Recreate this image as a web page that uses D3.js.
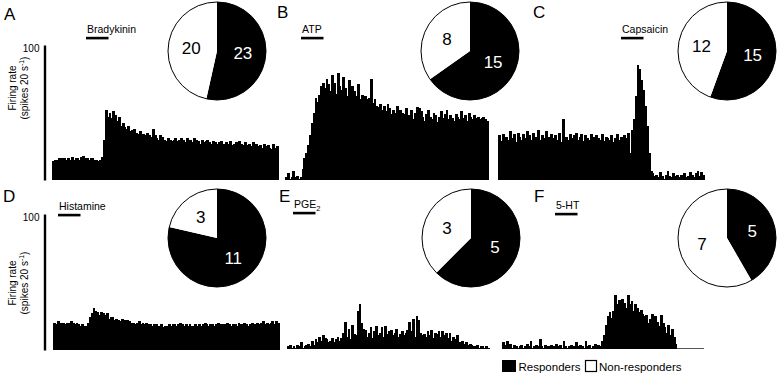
<!DOCTYPE html>
<html><head><meta charset="utf-8">
<script src="https://cdn.jsdelivr.net/npm/d3@7"></script>
<style>
body{margin:0;background:#fff;}
svg{display:block;font-family:"Liberation Sans",Arial,sans-serif;}
</style></head><body>
<svg id="chart" width="779" height="375"></svg>
<script>
// ---------- data ----------
const panelLetters = ["A","B","C","D","E","F"];
const drugs = ["Bradykinin","ATP","Capsaicin","Histamine","PGE","5-HT"];
const responders = [23,15,15,11,5,5];
const nonResponders = [20,8,12,3,3,7];
const yTickValues = [100];
const legendLabels = ["Responders","Non-responders"];

const rateA = [14,15,15,16,15,16,16,15,16,15, 17,15,16,16,15,17,18,16,16,15, 16,16,15,15,14,15,17,
  30,52,47,50,46,51,48,44,47,40,42,
  39,38,40,36,37,38,
  35,34,36,33,34,33,35,33,32,38,33,
  31,30,33,32,30,29,31,30,29,30, 31,29,30,31,30,28,31,29,30,28, 31,30,29,27,30,28,29,30,
  28,27,29,28,27,28,29,26,27,28, 27,29,26,27,28,26,29,27,26,28, 26,27,25,28,26,27,25,26,24,27, 25,26,24,23,27,24,25];
const rateB = [2,5,1,2,7,2,3,1,2,
  8,16,20,26,33,42,50,61,
  58,63,70,72,68,75,71,66,78,72,64,79,70,67,76,
  68,62,74,65,70,66,62,71,60,63,58,62,60,61,75,57,60,55,
  54,56,52,55,51,56,53,49,52,50,55,51,52,50,49,53,48,46,
  52,45,50,54,53,51,47,44,49,52, 47,45,50,48,43,47,51,46,49,52, 45,48,46,44,49,47,45,51,46,48, 44,50,47,45,48,46,47,45,46,47, 45,44];
const rateC = [33,29,34,31,32,30,36,31,34,28, 35,32,30,34,31,36,33,30,35,31, 32,37,30,33,31,36,32,29,34,31,
  33,30,35,28,45,31,32,30,34,31, 33,35,30,32,34,29,33,31,30,34, 32,28,33,31,30,34,29,32,31,30, 33,28,31,34,30,32,29,33,31,35,
  20,37,45,62,85,82,74,67,55,40,20,7,
  5,3,4,2,6,3,1,4,7,3, 2,5,3,4,2,4,3,5,2,3, 6,4,2,5,7,3,6,4];
const rateD = [20,19,21,20,19,20,19,20,20,21, 20,19,20,19,18,19,18,18,
  20,24,27,
  31,29,28,26,28,27,26,27,23,24,
  24,22,23,22,21,23,22,21,22,21,20,
  20,19,20,21,19,20,19,20,19,19, 18,19,19,18,18,19,17,18,18,19, 18,19,19,18,19,20,19,18,19,18, 19,18,18,19,18,19,18,19,20,19,
  18,19,19,18,19,20,19,19,18,19, 20,19,18,19,19,18,20,19,19,20, 19,18,19,20,19,18,20,19,20,21, 19,20,19,20,21,19,21,20];
const rateE = [2,3,1,2,1,3,2,5,1,2,3,4,2,6,3,
  7,5,9,6,10,8,7,5,6,8,5,7,9,6,
  8,12,20,9,15,7,18,11,10,
  28,33,19,15,
  14,9,12,16,8,13,17,10,12,16,9,17,11,13,14,10,12,15,9,11,13,10,12,14,
  20,13,22,9,24,21,
  12,10,11,9,13,10,14,8,12,11,13,9,
  13,10,12,8,12,6,9,7,10,
  5,4,6,4,5,3,4,3,
  2,2,3,1,2,2,1,2,1];
const rateF = [5,3,6,2,4,1,3,2,1,2, 3,1,2,4,2,6,1,2,3,2, 7,2,1,3,2,2,3,1,2,4, 2,3,1,6,2,1,2,3,2,1, 5,2,3,2,1,6,2,3,1,2, 4,2,3,2,
  6,10,18,24,
  27,23,28,
  40,
  33,36,35,37,34,30,40,33,
  35,28,33,30,27,29,26,24,
  25,19,22,26,18,24,20,17,25,19,
  16,12,18,10,15,9,4,
  0,0,0,0,0,0,0,0,0,0,0,0,0,0,0];
const rates = [rateA,rateB,rateC,rateD,rateE,rateF];

// ---------- layout ----------
const layout = [
  {x0:52, x1:278, base:180, top:45,  pie:[217,51],  letter:[4,20],    stim:[86,33],  ylab:88},
  {x0:285,x1:488, base:180, top:45,  pie:[470,51],  letter:[277,18],  stim:[301,33]},
  {x0:498,x1:704, base:180, top:45,  pie:[727,51],  letter:[533,18],  stim:[621,33]},
  {x0:53, x1:279, base:350, top:214, pie:[217,238], letter:[3,202],   stim:[58,210], ylab:283},
  {x0:287,x1:489, base:349, top:213, pie:[471,238], letter:[279,202], stim:[293,208]},
  {x0:502,x1:704, base:349, top:213, pie:[727,238], letter:[534,202], stim:[555,209]}
];
const R = 49, stimW = 22.5;

const svg = d3.select("#chart");

rates.forEach((vals, i) => {
  const L = layout[i];
  const g = svg.append("g");
  const x = d3.scaleBand().domain(d3.range(vals.length)).range([L.x0, L.x1]).padding(0);
  const y = d3.scaleLinear().domain([0,100]).range([L.base, L.top]);

  // baseline
  g.append("line").attr("x1",L.x0).attr("x2",L.x1).attr("y1",L.base-0.5).attr("y2",L.base-0.5)
    .attr("stroke","#555").attr("stroke-width",1);

  g.selectAll("rect.bar").data(vals).enter().append("rect")
    .attr("class","bar")
    .attr("x",(d,j)=>x(j))
    .attr("width",x.bandwidth()+1)
    .attr("y",d=>y(d))
    .attr("height",d=>L.base - y(d))
    .attr("fill","#000")
    .attr("shape-rendering","crispEdges");

  // y axis on left panels
  if (L.ylab !== undefined) {
    const ax = g.append("g").attr("transform","translate(44.5,0)")
      .call(d3.axisLeft(y).tickValues(yTickValues).tickSize(0).tickSizeOuter(0).tickPadding(5));
    ax.select(".domain").attr("stroke","#000").attr("stroke-width",2.4);
    ax.selectAll("text").attr("font-size",10).attr("font-family","Liberation Sans, Arial, sans-serif").attr("dy","0.6em");
    const cy = L.ylab;
    g.append("text").attr("transform",`translate(15.5,${cy}) rotate(-90)`)
      .attr("text-anchor","middle").attr("font-size",10).text("Firing rate");
    const t2 = g.append("text").attr("transform",`translate(28,${cy}) rotate(-90)`)
      .attr("text-anchor","middle").attr("font-size",10);
    t2.append("tspan").text("(spikes 20 s");
    t2.append("tspan").attr("font-size",7).attr("dy",-4).text("-1");
    t2.append("tspan").attr("dy",4).text(")");
  }

  // panel letter
  g.append("text").attr("x",L.letter[0]).attr("y",L.letter[1]).attr("font-size",17).text(panelLetters[i]);

  // stimulus label + bar
  const st = g.append("text").attr("x",L.stim[0]+1).attr("y",L.stim[1]).attr("font-size",10.5);
  st.append("tspan").text(drugs[i]);
  if (drugs[i]==="PGE") st.append("tspan").attr("font-size",7.5).attr("dy",2.5).text("2");
  g.append("rect").attr("x",L.stim[0]).attr("y",L.stim[1]+3.8).attr("width",stimW).attr("height",2.6).attr("fill","#000");

  // pie
  const pie = d3.pie().sort(null).value(d=>d)([responders[i], nonResponders[i]]);
  const arc = d3.arc().innerRadius(0).outerRadius(R);
  const lab = d3.arc().innerRadius(26).outerRadius(26);
  const pg = g.append("g").attr("transform",`translate(${L.pie[0]},${L.pie[1]})`);
  pg.selectAll("path").data(pie).enter().append("path")
    .attr("d",arc).attr("fill",(d,j)=>j===0?"#000":"#fff");
  pg.append("circle").attr("r",R).attr("fill","none").attr("stroke","#000").attr("stroke-width",1);
  pg.selectAll("text").data(pie).enter().append("text")
    .attr("transform",d=>`translate(${lab.centroid(d)})`)
    .attr("text-anchor","middle").attr("dominant-baseline","central")
    .attr("font-size",17).attr("fill",(d,j)=>j===0?"#fff":"#000")
    .text(d=>d.data);
});

// legend
const lg = svg.append("g");
lg.append("rect").attr("x",502).attr("y",360).attr("width",14).attr("height",12).attr("fill","#000");
lg.append("text").attr("x",518.5).attr("y",370.5).attr("font-size",11.5).text(legendLabels[0]);
lg.append("rect").attr("x",585.5).attr("y",360.5).attr("width",11).attr("height",11).attr("fill","#fff").attr("stroke","#000").attr("stroke-width",1.2);
lg.append("text").attr("x",599).attr("y",370.5).attr("font-size",11.5).text(legendLabels[1]);
</script>
</body></html>
